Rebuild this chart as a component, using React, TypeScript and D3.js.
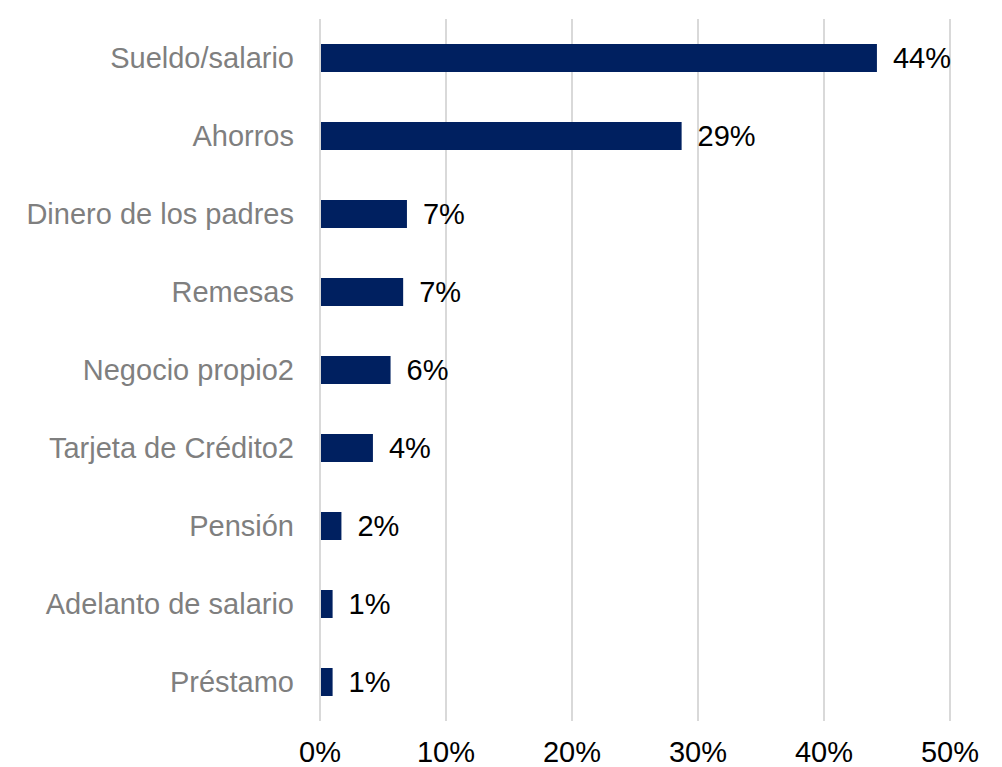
import { useEffect, useRef } from "react"
import * as d3 from "d3"

const categories = [
  "Sueldo/salario",
  "Ahorros",
  "Dinero de los padres",
  "Remesas",
  "Negocio propio2",
  "Tarjeta de Crédito2",
  "Pensión",
  "Adelanto de salario",
  "Préstamo",
]
const values = [0.442, 0.287, 0.069, 0.066, 0.056, 0.042, 0.017, 0.01, 0.01]
const valueLabels = ["44%", "29%", "7%", "7%", "6%", "4%", "2%", "1%", "1%"]
const tickValues = [0, 0.1, 0.2, 0.3, 0.4, 0.5]

export default function App() {
  const svgRef = useRef<SVGSVGElement | null>(null)

  useEffect(() => {
    if (!svgRef.current) return
    const svg = d3.select(svgRef.current)
    svg.selectAll("*").remove()

    const width = 1002
    const height = 767
    const font = "'Liberation Sans', Arial, sans-serif"
    const fontSize = 29

    const x = d3.scaleLinear().domain([0, 0.5]).range([320, 950])
    const y = d3
      .scaleBand<string>()
      .domain(categories)
      .range([19, 721])
      .paddingInner(50 / 78)
      .paddingOuter(25 / 78)

    svg.attr("viewBox", `0 0 ${width} ${height}`).attr("width", width).attr("height", height)

    // gridlines
    svg
      .append("g")
      .selectAll("line")
      .data(tickValues)
      .join("line")
      .attr("x1", (d) => x(d))
      .attr("x2", (d) => x(d))
      .attr("y1", 19)
      .attr("y2", 721)
      .attr("stroke", "#d9d9d9")
      .attr("stroke-width", 2)

    // tick labels
    svg
      .append("g")
      .selectAll("text")
      .data(tickValues)
      .join("text")
      .text((d) => d3.format(".0%")(d))
      .attr("x", (d) => x(d))
      .attr("y", 762)
      .attr("text-anchor", "middle")
      .attr("font-family", font)
      .attr("font-size", fontSize)
      .attr("fill", "#000")

    const rows = categories.map((c, i) => ({ c, v: values[i], label: valueLabels[i] }))

    // bars
    svg
      .append("g")
      .selectAll("rect")
      .data(rows)
      .join("rect")
      .attr("x", x(0) + 1)
      .attr("y", (d) => y(d.c) ?? 0)
      .attr("width", (d) => x(d.v) - x(0) - 1)
      .attr("height", y.bandwidth())
      .attr("fill", "#002060")

    // category labels
    svg
      .append("g")
      .selectAll("text")
      .data(rows)
      .join("text")
      .text((d) => d.c)
      .attr("x", 294)
      .attr("y", (d) => (y(d.c) ?? 0) + y.bandwidth() / 2 + 10)
      .attr("text-anchor", "end")
      .attr("font-family", font)
      .attr("font-size", fontSize)
      .attr("fill", "#7f7f7f")

    // value labels
    svg
      .append("g")
      .selectAll("text")
      .data(rows)
      .join("text")
      .text((d) => d.label)
      .attr("x", (d) => x(d.v) + 16)
      .attr("y", (d) => (y(d.c) ?? 0) + y.bandwidth() / 2 + 10)
      .attr("font-family", font)
      .attr("font-size", fontSize)
      .attr("fill", "#000")
  }, [])

  return (
    <svg
      ref={svgRef}
      style={{ position: "absolute", left: 0, top: 0, display: "block" }}
    />
  )
}
